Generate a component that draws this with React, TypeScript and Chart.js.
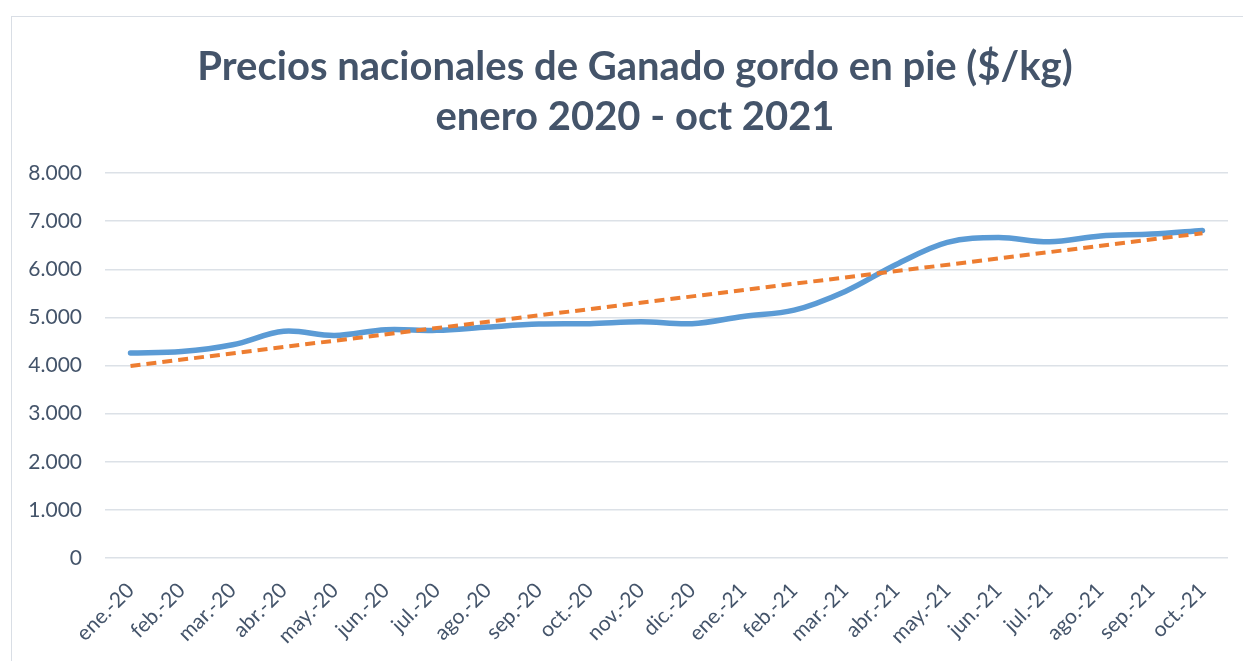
import React, { useEffect, useRef } from "react";
import { Chart, registerables } from "chart.js";

Chart.register(...registerables);

const categories: string[] = [
  "ene.-20", "feb.-20", "mar.-20", "abr.-20", "may.-20", "jun.-20", "jul.-20",
  "ago.-20", "sep.-20", "oct.-20", "nov.-20", "dic.-20", "ene.-21", "feb.-21",
  "mar.-21", "abr.-21", "may.-21", "jun.-21", "jul.-21", "ago.-21", "sep.-21", "oct.-21",
];

const precios: number[] = [
  4260, 4290, 4430, 4710, 4625, 4745, 4730, 4800, 4860, 4870, 4910,
  4870, 5020, 5150, 5540, 6100, 6560, 6660, 6570, 6690, 6730, 6805,
];

// Linear trend line endpoints
const trendStart = 3990;
const trendEnd = 6750;

const yTicks: number[] = [0, 1000, 2000, 3000, 4000, 5000, 6000, 7000, 8000];

const titleLines: string[] = [
  "Precios nacionales de Ganado gordo en pie ($/kg)",
  "enero 2020 - oct 2021",
];

const fmt = (v: number) =>
  String(Math.round(v)).replace(/\B(?=(\d{3})+(?!\d))/g, ".");

const titlePlugin = {
  id: "centeredTitle",
  afterDraw(chart: any) {
    const ctx = chart.ctx;
    ctx.save();
    ctx.fillStyle = "#44546A";
    ctx.font = "bold 40px Lato";
    ctx.textAlign = "center";
    ctx.textBaseline = "middle";
    const cx = 635;
    titleLines.forEach((line, i) => {
      ctx.fillText(line, cx, 67 + i * 50);
    });
    ctx.restore();
  },
};

export default function App() {
  const ref = useRef<HTMLCanvasElement | null>(null);

  useEffect(() => {
    if (!ref.current) return;
    const last = categories.length - 1;
    const trend = categories.map((_, i) =>
      i === 0 ? trendStart : i === last ? trendEnd : null
    );
    const chart = new Chart(ref.current, {
      type: "line",
      data: {
        labels: categories,
        datasets: [
          {
            label: "Lineal",
            data: trend as any,
            borderColor: "#ED7D31",
            borderWidth: 4,
            borderDash: [10, 6],
            pointRadius: 0,
            spanGaps: true,
            tension: 0,
            fill: false,
          },
          {
            label: "Precio",
            data: precios,
            borderColor: "#5B9BD5",
            borderWidth: 5.5,
            borderCapStyle: "round",
            borderJoinStyle: "round",
            pointRadius: 0,
            tension: 0.35,
            fill: false,
          },
        ],
      },
      plugins: [titlePlugin],
      options: {
        responsive: false,
        animation: false,
        layout: { padding: { top: 173, left: 0, right: 15, bottom: 0 } },
        plugins: {
          legend: { display: false },
          tooltip: { enabled: false },
          title: { display: false },
        },
        scales: {
          x: {
            offset: true,
            grid: { display: false, drawTicks: false },
            border: { display: false },
            ticks: {
              autoSkip: false,
              maxRotation: 45,
              minRotation: 45,
              padding: 20,
              color: "#44546A",
              font: { family: "Lato", size: 21 },
            },
            afterFit: (s: any) => {
              s.height = 103;
            },
          },
          y: {
            min: 0,
            max: 8000,
            afterBuildTicks: (s: any) => {
              s.ticks = yTicks.map((v) => ({ value: v }));
            },
            grid: { color: "#DCE1E7", lineWidth: 1.5, drawTicks: false },
            border: { display: false },
            ticks: {
              padding: 23,
              color: "#44546A",
              font: { family: "Lato", size: 21 },
              callback: (v: any) => fmt(Number(v)),
            },
            afterFit: (s: any) => {
              s.width = 105;
            },
          },
        },
      },
    });
    return () => chart.destroy();
  }, []);

  return (
    <div
      style={{
        position: "absolute",
        left: 0,
        top: 0,
        width: 1243,
        height: 661,
        background: "#fff",
        overflow: "hidden",
      }}
    >
      <div
        style={{
          position: "absolute",
          left: 11,
          top: 16,
          width: 1232,
          height: 645,
          borderLeft: "1.5px solid #D9DEE5",
          borderTop: "1.5px solid #D9DEE5",
          boxSizing: "border-box",
        }}
      />
      <canvas
        ref={ref}
        width={1243}
        height={661}
        style={{ position: "absolute", left: 0, top: 0, width: 1243, height: 661 }}
      />
    </div>
  );
}
